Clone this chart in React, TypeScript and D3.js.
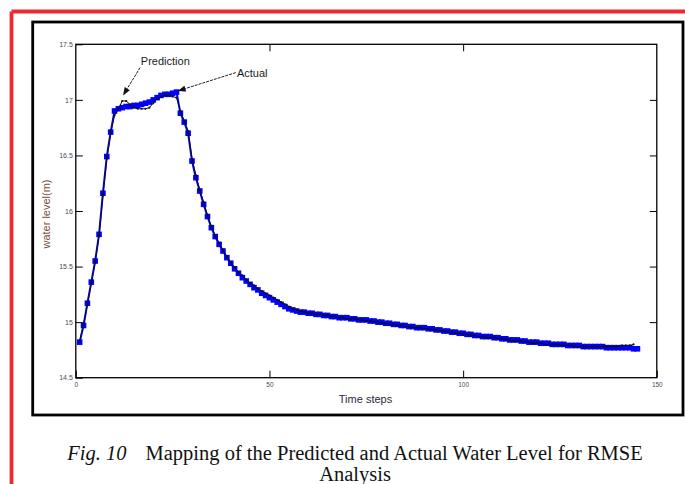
import * as d3 from "d3";
import { useEffect, useRef } from "react";

// time step 1..N
const actualLevel = [
  14.82, 14.97, 15.17, 15.36, 15.55, 15.79, 16.16, 16.49, 16.71, 16.9,
  16.92, 16.93, 16.94, 16.94, 16.95, 16.95, 16.96, 16.97, 16.98, 17.0,
  17.02, 17.04, 17.05, 17.05, 17.06, 17.07, 16.88, 16.8, 16.7, 16.45,
  16.3, 16.18, 16.06, 15.95, 15.85, 15.77, 15.7, 15.64, 15.58, 15.53,
  15.48, 15.44, 15.4, 15.37, 15.34, 15.31, 15.29, 15.26, 15.24, 15.22,
  15.2, 15.18, 15.16, 15.14, 15.12, 15.11, 15.1, 15.09, 15.09, 15.08,
  15.08, 15.07, 15.07, 15.06, 15.06, 15.05, 15.05, 15.04, 15.04, 15.04,
  15.03, 15.03, 15.02, 15.02, 15.02, 15.01, 15.01, 15.0, 15.0, 14.99,
  14.99, 14.98, 14.98, 14.97, 14.97, 14.96, 14.96, 14.95, 14.95, 14.95,
  14.94, 14.94, 14.93, 14.93, 14.92, 14.92, 14.91, 14.91, 14.9, 14.9,
  14.89, 14.89, 14.88, 14.88, 14.87, 14.87, 14.87, 14.86, 14.86, 14.85,
  14.85, 14.84, 14.84, 14.84, 14.83, 14.83, 14.82, 14.82, 14.82, 14.81,
  14.81, 14.81, 14.8, 14.8, 14.8, 14.8, 14.79, 14.79, 14.79, 14.79,
  14.78, 14.78, 14.78, 14.78, 14.78, 14.78, 14.77, 14.77, 14.77, 14.77,
  14.77, 14.77, 14.77, 14.76, 14.76,
];

const predictedLevel = [
  14.83, 14.98, 15.16, 15.35, 15.54, 15.78, 16.14, 16.47, 16.7, 16.86,
  16.92, 16.99, 16.99, 16.96, 16.93, 16.92, 16.92, 16.92, 16.93, 16.97,
  17.01, 17.03, 17.04, 17.04, 17.03, 17.02, 16.9, 16.81, 16.72, 16.47,
  16.32, 16.19, 16.08, 15.96, 15.86, 15.78, 15.71, 15.65, 15.59, 15.54,
  15.49, 15.45, 15.42, 15.38, 15.35, 15.33, 15.3, 15.28, 15.26, 15.24,
  15.22, 15.2, 15.18, 15.16, 15.14, 15.12, 15.11, 15.1, 15.09, 15.08,
  15.08, 15.07, 15.07, 15.06, 15.06, 15.05, 15.05, 15.04, 15.04, 15.03,
  15.03, 15.03, 15.02, 15.02, 15.01, 15.01, 15.0, 15.0, 14.99, 14.99,
  14.98, 14.98, 14.97, 14.97, 14.96, 14.96, 14.95, 14.95, 14.95, 14.94,
  14.94, 14.93, 14.93, 14.92, 14.92, 14.91, 14.91, 14.9, 14.9, 14.89,
  14.89, 14.88, 14.88, 14.87, 14.87, 14.86, 14.86, 14.86, 14.85, 14.85,
  14.84, 14.84, 14.83, 14.83, 14.83, 14.82, 14.82, 14.81, 14.81, 14.81,
  14.8, 14.8, 14.8, 14.8, 14.79, 14.79, 14.79, 14.79, 14.78, 14.78,
  14.78, 14.78, 14.78, 14.78, 14.78, 14.78, 14.78, 14.78, 14.78, 14.78,
  14.79, 14.79, 14.79, 14.8,
];

const xTicks = [0, 50, 100, 150];
const yTicks = [14.5, 15, 15.5, 16, 16.5, 17, 17.5];

// annotation text + arrow, in data coordinates
const notes = [
  { text: "Prediction", tx: 16.8, ty: 17.35, x0: 16.6, y0: 17.29, x1: 12.2, y1: 17.04 },
  { text: "Actual", tx: 41.6, ty: 17.24, x0: 41.3, y0: 17.245, x1: 26.3, y1: 17.08 },
];

const captionLine1 = "Mapping of the Predicted and Actual Water Level for RMSE";
const captionLine2 = "Analysis";

export default function App() {
  const width = 685;
  const height = 484;
  const left = 75.8;
  const right = 656.8;
  const top = 44.3;
  const bottom = 377.7;

  const x = d3.scaleLinear([0, 150], [left, right]);
  const y = d3.scaleLinear([14.5, 17.5], [bottom, top]);

  const gx = useRef(null);
  const gy = useRef(null);
  const gt = useRef(null);
  const gr = useRef(null);

  useEffect(() => {
    const style = (g: any, size: number) => {
      g.select(".domain").remove();
      g.selectAll(".tick line").attr("stroke", "#000").attr("stroke-width", 1);
      g.selectAll(".tick text")
        .attr("font-family", "Arial, 'Liberation Sans', sans-serif")
        .attr("font-size", size)
        .attr("fill", "#4a4a5a");
    };
    // @ts-ignore
    d3.select(gx.current).call(d3.axisBottom(x).tickValues(xTicks).tickSize(-7).tickPadding(5).tickFormat(d3.format(""))).call((g) => style(g, 6.5));
    // @ts-ignore
    d3.select(gy.current).call(d3.axisLeft(y).tickValues(yTicks).tickSize(-7).tickPadding(3).tickFormat(d3.format(""))).call((g) => style(g, 7));
    // @ts-ignore
    d3.select(gt.current).call(d3.axisTop(x).tickValues([50, 100]).tickSize(-7).tickFormat(() => "")).call((g) => style(g, 7));
    // @ts-ignore
    d3.select(gr.current).call(d3.axisRight(y).tickValues(yTicks.slice(1, -1)).tickSize(-7).tickFormat(() => "")).call((g) => style(g, 7));
  }, []);

  const line = d3
    .line<number>()
    .x((d, i) => x(i + 1))
    .y((d) => y(d));

  const arrow = (n: (typeof notes)[number]) => {
    const ax = x(n.x0), ay = y(n.y0), bx = x(n.x1), by = y(n.y1);
    const ang = Math.atan2(by - ay, bx - ax);
    const hl = 8, hw = 3;
    const baseX = bx - hl * Math.cos(ang), baseY = by - hl * Math.sin(ang);
    const px = -Math.sin(ang) * hw, py = Math.cos(ang) * hw;
    return (
      <g key={n.text}>
        <line x1={ax} y1={ay} x2={baseX} y2={baseY} stroke="#222" strokeWidth={1} strokeDasharray="3,1" />
        <path
          d={`M${bx},${by}L${baseX + px},${baseY + py}L${baseX - px},${baseY - py}Z`}
          fill="#111"
        />
      </g>
    );
  };

  return (
    <svg width={width} height={height} style={{ position: "absolute", left: 0, top: 0, background: "#fff" }}>
      {/* red page border (top + left) */}
      <line x1={11.5} y1={11.5} x2={width} y2={11.5} stroke="#ee2a2e" strokeWidth={3.8} />
      <line x1={11.5} y1={11.5} x2={11.5} y2={height} stroke="#ee2a2e" strokeWidth={3.8} />
      {/* figure frame */}
      <rect x={32.7} y={22} width={683 - 32.7} height={415 - 22} fill="none" stroke="#000" strokeWidth={2.8} />

      {/* plot box */}
      <rect x={left} y={top} width={right - left} height={bottom - top} fill="none" stroke="#000" strokeWidth={1.3} />
      <g ref={gx} transform={`translate(0,${bottom})`} />
      <g ref={gy} transform={`translate(${left},0)`} />
      <g ref={gt} transform={`translate(0,${top})`} />
      <g ref={gr} transform={`translate(${right},0)`} />

      {/* actual: blue squares */}
      <path d={line(actualLevel) as string} fill="none" stroke="#0000ff" strokeWidth={2} />
      <g fill="#0000ff">
        {actualLevel.map((d, i) => (
          <rect key={i} x={x(i + 1) - 2.8} y={y(d) - 2.8} width={5.6} height={5.6} />
        ))}
      </g>

      {/* prediction: thin black dotted line */}
      <path d={line(predictedLevel) as string} fill="none" stroke="#111" strokeWidth={1} />
      <g fill="#111">
        {predictedLevel.map((d, i) => (
          <circle key={i} cx={x(i + 1)} cy={y(d)} r={1.1} />
        ))}
      </g>

      {/* annotations */}
      {notes.map(arrow)}
      {notes.map((n) => (
        <text
          key={n.text}
          x={x(n.tx)}
          y={y(n.ty)}
          dy="0.35em"
          fontFamily="Arial, 'Liberation Sans', sans-serif"
          fontSize={11}
          fill="#1a1a1a"
        >
          {n.text}
        </text>
      ))}

      {/* axis titles */}
      <text
        transform={`translate(50,214) rotate(-90)`}
        textAnchor="middle"
        fontFamily="Arial, 'Liberation Sans', sans-serif"
        fontSize={11}
        fill="#7a4f3a"
      >
        water level(m)
      </text>
      <text
        x={365.5}
        y={403}
        textAnchor="middle"
        fontFamily="Arial, 'Liberation Sans', sans-serif"
        fontSize={11}
        fill="#2a2a3a"
      >
        Time steps
      </text>

      {/* caption */}
      <text x={355} y={460} textAnchor="middle" fontFamily="'Liberation Serif', 'Times New Roman', serif" fontSize={20.5} fill="#111">
        <tspan fontStyle="italic">Fig. 10</tspan>
        <tspan dx={19}>{captionLine1}</tspan>
      </text>
      <text x={355} y={481} textAnchor="middle" fontFamily="'Liberation Serif', 'Times New Roman', serif" fontSize={20.5} fill="#111">
        {captionLine2}
      </text>
    </svg>
  );
}
